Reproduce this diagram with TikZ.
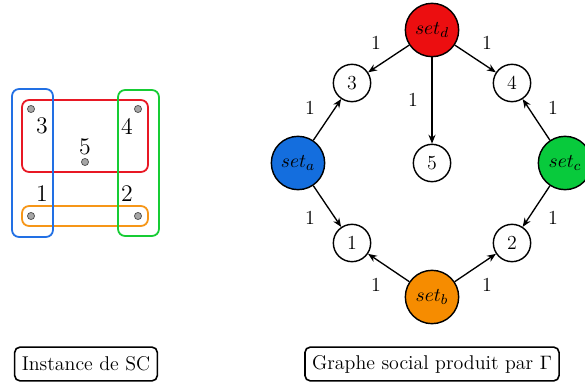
\documentclass[tikz,border=0pt]{standalone}
\usetikzlibrary{arrows.meta}
\definecolor{cred}{RGB}{236,14,16}
\definecolor{cblue}{RGB}{20,110,222}
\definecolor{cgreen}{RGB}{8,202,60}
\definecolor{corange}{RGB}{246,140,0}
\definecolor{rred}{RGB}{232,24,36}
\definecolor{rblue}{RGB}{34,112,228}
\definecolor{rgreen}{RGB}{22,204,52}
\definecolor{rorange}{RGB}{246,150,24}
\begin{document}
\begin{tikzpicture}[x=0.5625pt,y=-0.5625pt,
  every node/.style={font=\fontsize{11.2}{13.5}\selectfont},
  setnode/.style={circle,draw=black,line width=0.8pt,minimum size=30pt,inner sep=0pt},
  elem/.style={circle,draw=black,line width=0.8pt,minimum size=21pt,inner sep=0pt,fill=white},
  arr/.style={-{Stealth[length=5pt,width=4pt]},line width=0.75pt},
  wt/.style={inner sep=0pt},
  big/.style={inner sep=0pt,font=\fontsize{13.4}{16}\selectfont},
  dot/.style={circle,draw=black!70,fill=black!35,line width=0.4pt,minimum size=4pt,inner sep=0pt},
  capbox/.style={draw=black,line width=0.9pt,rounded corners=3pt,inner xsep=4pt,inner ysep=4pt,minimum height=19pt},
  setrect/.style={line width=1pt,rounded corners=4pt}]
\useasboundingbox (0,0) rectangle (585,385);
% left: instance
\draw[setrect,draw=rred] (22,100) rectangle (148,172);
\draw[setrect,draw=rorange] (22,206) rectangle (148,226);
\draw[setrect,draw=rblue] (12,89) rectangle (53,237);
\draw[setrect,draw=rgreen] (118,90) rectangle (159,236);
\node[dot] (p3) at (31,109) {};
\node[dot] (p4) at (138,109) {};
\node[dot] (p5) at (85,162) {};
\node[dot] (p1) at (31,216) {};
\node[dot] (p2) at (138,216) {};
\node[big] (l3) at (42,126) {3};
\node[big] (l4) at (127,126) {4};
\node[big] (l5) at (85,147) {5};
\node[big] (l1) at (42,194) {1};
\node[big] (l2) at (127,194) {2};
% right: graph
\node[setnode,fill=cred] (sd) at (432,30) {$set_d$};
\node[setnode,fill=cblue] (sa) at (298,163) {$set_a$};
\node[setnode,fill=cgreen] (sc) at (565,163) {$set_c$};
\node[setnode,fill=corange] (sb) at (432,297) {$set_b$};
\node[elem] (n3) at (352,83) {3};
\node[elem] (n4) at (512,83) {4};
\node[elem] (n5) at (432,163) {5};
\node[elem] (n1) at (352,243) {1};
\node[elem] (n2) at (512,243) {2};
\draw[arr] (sd) -- (n3);
\draw[arr] (sd) -- (n4);
\draw[arr] (sd) -- (n5);
\draw[arr] (sa) -- (n3);
\draw[arr] (sa) -- (n1);
\draw[arr] (sc) -- (n4);
\draw[arr] (sc) -- (n2);
\draw[arr] (sb) -- (n1);
\draw[arr] (sb) -- (n2);
\node[wt] (w1) at (376,43) {1};
\node[wt] (w2) at (487,43) {1};
\node[wt] (w3) at (413,100) {1};
\node[wt] (w4) at (310,108) {1};
\node[wt] (w5) at (553,108) {1};
\node[wt] (w6) at (310,218) {1};
\node[wt] (w7) at (553,218) {1};
\node[wt] (w8) at (376,285) {1};
\node[wt] (w9) at (487,285) {1};
% captions
\node[capbox] (c1) at (86,364) {Instance de SC};
\node[capbox] (c2) at (432,364) {Graphe social produit par $\Gamma$};
\end{tikzpicture}
\end{document}
